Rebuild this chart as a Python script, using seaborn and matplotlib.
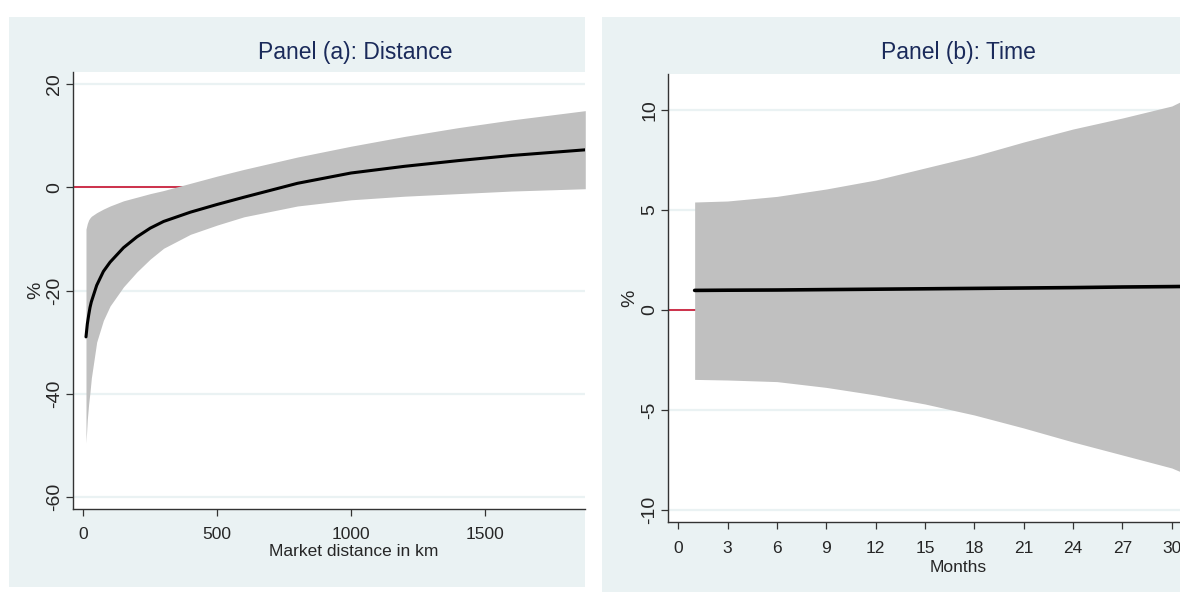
import matplotlib
matplotlib.use("Agg")
import matplotlib.pyplot as plt
import seaborn as sns
import pandas as pd
from matplotlib.patches import Rectangle

# --- data ---
dist_km = [10, 15, 20, 25, 30, 50, 75, 100, 150, 200, 250, 300, 400, 500, 600, 800, 1000, 1200, 1400, 1600, 1875]
dist_est = [-29.0, -26.5, -24.8, -23.3, -22.2, -19.0, -16.3, -14.5, -11.7, -9.6, -7.9, -6.6, -4.8, -3.3, -1.9, 0.8, 2.8, 4.1, 5.2, 6.2, 7.3]
dist_hi = [-8.1, -7.0, -6.3, -5.9, -5.6, -4.9, -4.2, -3.6, -2.6, -1.9, -1.2, -0.6, 0.8, 2.2, 3.5, 5.9, 8.0, 9.9, 11.6, 13.1, 14.9]
dist_lo = [-49.6, -45.0, -42.0, -39.7, -37.0, -30.0, -25.8, -23.0, -19.3, -16.4, -13.9, -11.8, -9.1, -7.3, -5.7, -3.6, -2.4, -1.7, -1.2, -0.7, -0.25]

months = [1, 3, 6, 9, 12, 15, 18, 21, 24, 27, 30, 31]
time_est = [0.98, 0.99, 1.0, 1.02, 1.04, 1.06, 1.08, 1.1, 1.12, 1.15, 1.17, 1.18]
time_hi = [5.4, 5.45, 5.68, 6.05, 6.5, 7.1, 7.7, 8.4, 9.05, 9.6, 10.2, 10.6]
time_lo = [-3.47, -3.5, -3.58, -3.87, -4.25, -4.7, -5.25, -5.9, -6.6, -7.25, -7.9, -8.25]

dist_ticks = [0, 500, 1000, 1500]
dist_yticks = [-60, -40, -20, 0, 20]
month_ticks = list(range(0, 31, 3))
time_yticks = [-10, -5, 0, 5, 10]

df_a = pd.DataFrame({"x": dist_km, "y": dist_est})
df_b = pd.DataFrame({"x": months, "y": time_est})

sns.set_style("ticks")
plt.rcParams["font.family"] = ["Liberation Sans", "DejaVu Sans"]
plt.rcParams["axes.unicode_minus"] = False

BG = "#EAF2F3"
BAND = "#C0C0C0"
RED = "#C8102E"
NAVY = "#1A2A5A"
W, H = 1180, 592

fig = plt.figure(figsize=(W / 100, H / 100), dpi=100)
fig.patch.set_facecolor("white")

# stata-like graph regions
fig.patches.append(Rectangle((9 / W, 5 / H), 576 / W, 570 / H, transform=fig.transFigure,
                             facecolor=BG, edgecolor="none", zorder=-5))
fig.patches.append(Rectangle((602 / W, 0), 578 / W, 575 / H, transform=fig.transFigure,
                             facecolor=BG, edgecolor="none", zorder=-5))

ax_a = fig.add_axes([73 / W, (H - 509) / H, 512 / W, 437 / H], zorder=2)
ax_b = fig.add_axes([668 / W, (H - 522) / H, 512 / W, 448 / H], zorder=2)


def style_axis(ax, yticks, xpad):
    ax.set_facecolor("white")
    for s in ["top", "right"]:
        ax.spines[s].set_visible(False)
    for s in ["left", "bottom"]:
        ax.spines[s].set_color("#333333")
        ax.spines[s].set_linewidth(1.0)
    ax.set_yticks(yticks)
    for t in yticks:
        ax.axhline(t, color=BG, lw=1.6, zorder=0.5)
    ax.tick_params(axis="both", length=5, width=0.9, color="#333333")
    ax.tick_params(axis="x", pad=xpad, labelsize=12.5)
    ax.tick_params(axis="y", pad=2, labelsize=14)
    for lab in ax.get_yticklabels():
        lab.set_rotation(90)
        lab.set_va("center")


# Panel (a)
ax_a.axhline(0, color=RED, lw=1.2, zorder=1)
ax_a.fill_between(dist_km, dist_lo, dist_hi, color=BAND, lw=0, zorder=2)
sns.lineplot(data=df_a, x="x", y="y", ax=ax_a, color="black", lw=2.2, zorder=3)
ax_a.set_xlim(-38.5, 1874)
ax_a.set_ylim(-62.4, 22.4)
ax_a.set_xticks(dist_ticks)
style_axis(ax_a, dist_yticks, 8)
ax_a.set_xlabel("Market distance in km", fontsize=12.5, va="center")
ax_a.xaxis.set_label_coords((354 - 73) / 512, -(552 - 509) / 437)
ax_a.set_ylabel("%", fontsize=14, va="center")
ax_a.yaxis.set_label_coords((36 - 73) / 512, 0.5)
ax_a.text((355 - 73) / 512, (509 - 53) / 437, "Panel (a): Distance", transform=ax_a.transAxes,
          ha="center", va="center", fontsize=16.5, color=NAVY)

# Panel (b)
ax_b.axhline(0, color=RED, lw=1.2, zorder=1)
ax_b.fill_between(months, time_lo, time_hi, color=BAND, lw=0, zorder=2)
sns.lineplot(data=df_b, x="x", y="y", ax=ax_b, color="black", lw=2.6, zorder=3)
ax_b.set_xlim(-0.62, 30.5)
ax_b.set_ylim(-10.6, 11.8)
ax_b.set_xticks(month_ticks)
style_axis(ax_b, time_yticks, 9)
ax_b.set_xlabel("Months", fontsize=12.5, va="center")
ax_b.xaxis.set_label_coords((958 - 668) / 512, -(567 - 522) / 448)
ax_b.set_ylabel("%", fontsize=14, va="center")
ax_b.yaxis.set_label_coords((630 - 668) / 512, 0.5)
ax_b.text((958 - 668) / 512, (522 - 53) / 448, "Panel (b): Time", transform=ax_b.transAxes,
          ha="center", va="center", fontsize=16.5, color=NAVY)

fig.savefig("out.png", dpi=100, facecolor="white")
